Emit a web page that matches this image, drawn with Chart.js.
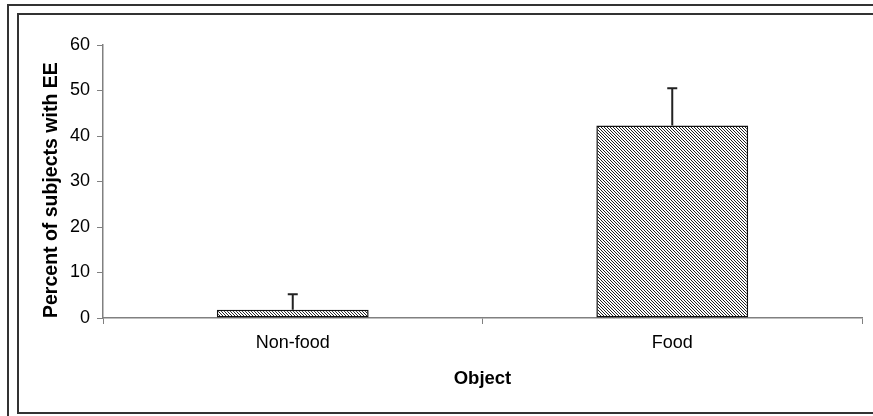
<!DOCTYPE html>
<html>
<head>
<meta charset="utf-8">
<script src="https://cdn.jsdelivr.net/npm/chart.js@4"></script>
<style>
  html, body { margin: 0; padding: 0; background: #fff; }
  #wrap { position: relative; width: 873px; height: 416px; overflow: hidden; }
  canvas { position: absolute; left: 0; top: 0; }
  .frame { position: absolute; border: 2px solid #333; pointer-events: none; }
</style>
</head>
<body>
<div id="wrap">
  <canvas id="c" width="873" height="416"></canvas>
  <div class="frame" style="left:7px; top:4px; width:1200px; height:1200px;"></div>
  <div class="frame" style="left:17px; top:13px; width:1200px; height:397px;"></div>
</div>
<script>
const categories = ["Non-food", "Food"];
const percentWithEE = [1.8, 42.3];
const errorUpper = [3.4, 8.2];
const yTicks = [0, 10, 20, 30, 40, 50, 60];

function hatch() {
  const p = document.createElement('canvas');
  p.width = 3; p.height = 3;
  const g = p.getContext('2d');
  g.fillStyle = '#fff';
  g.fillRect(0, 0, 3, 3);
  g.fillStyle = '#222';
  for (let i = 0; i < 3; i++) g.fillRect(i, i, 1, 1);
  return g.createPattern(p, 'repeat');
}

const errorBars = {
  id: 'errorBars',
  afterDatasetsDraw(chart) {
    const ctx = chart.ctx;
    const ys = chart.scales.y;
    const meta = chart.getDatasetMeta(0);
    ctx.save();
    ctx.strokeStyle = '#222';
    ctx.lineWidth = 2;
    meta.data.forEach((bar, i) => {
      const top = ys.getPixelForValue(percentWithEE[i] + errorUpper[i]);
      ctx.beginPath();
      ctx.moveTo(bar.x, bar.y);
      ctx.lineTo(bar.x, top);
      ctx.moveTo(bar.x - 5, top);
      ctx.lineTo(bar.x + 5, top);
      ctx.stroke();
    });
    ctx.restore();
  }
};

const family = "'Liberation Sans', Arial, sans-serif";
const tickFont = { family: family, size: 18 };
const xTitleFont = { family: family, size: 18.5, weight: 'bold' };
const yTitleFont = { family: family, size: 19.5, weight: 'bold' };

new Chart(document.getElementById('c'), {
  type: 'bar',
  data: {
    labels: categories,
    datasets: [{
      data: percentWithEE,
      backgroundColor: hatch(),
      borderColor: '#111',
      borderWidth: 1.5,
      borderSkipped: false,
      barPercentage: 0.4,
      categoryPercentage: 1
    }]
  },
  options: {
    responsive: false,
    animation: false,
    devicePixelRatio: 1,
    layout: { padding: { left: 36, top: 45, right: 11, bottom: 22 } },
    plugins: { legend: { display: false }, tooltip: { enabled: false } },
    scales: {
      x: {
        grid: { display: true, drawOnChartArea: false, drawTicks: true, tickLength: 6, color: '#808080', offset: true },
        border: { color: '#808080', width: 1.5 },
        ticks: { color: '#000', font: tickFont, padding: 8 },
        title: { display: true, text: 'Object', color: '#000', font: xTitleFont, padding: 4 },
        afterFit(s) { s.height = 416 - 22 - 318; }
      },
      y: {
        min: 0, max: 60,
        afterBuildTicks(s) { s.ticks = yTicks.map(v => ({ value: v })); },
        grid: { display: true, drawOnChartArea: false, drawTicks: true, tickLength: 6, color: '#808080' },
        border: { color: '#808080', width: 1.5 },
        ticks: { color: '#000', font: tickFont, padding: 7 },
        title: { display: true, text: 'Percent of subjects with EE', align: 'start', color: '#000', font: yTitleFont, padding: 4 },
        afterFit(s) { s.width = 103 - 36; }
      }
    }
  },
  plugins: [errorBars]
});
</script>
</body>
</html>
